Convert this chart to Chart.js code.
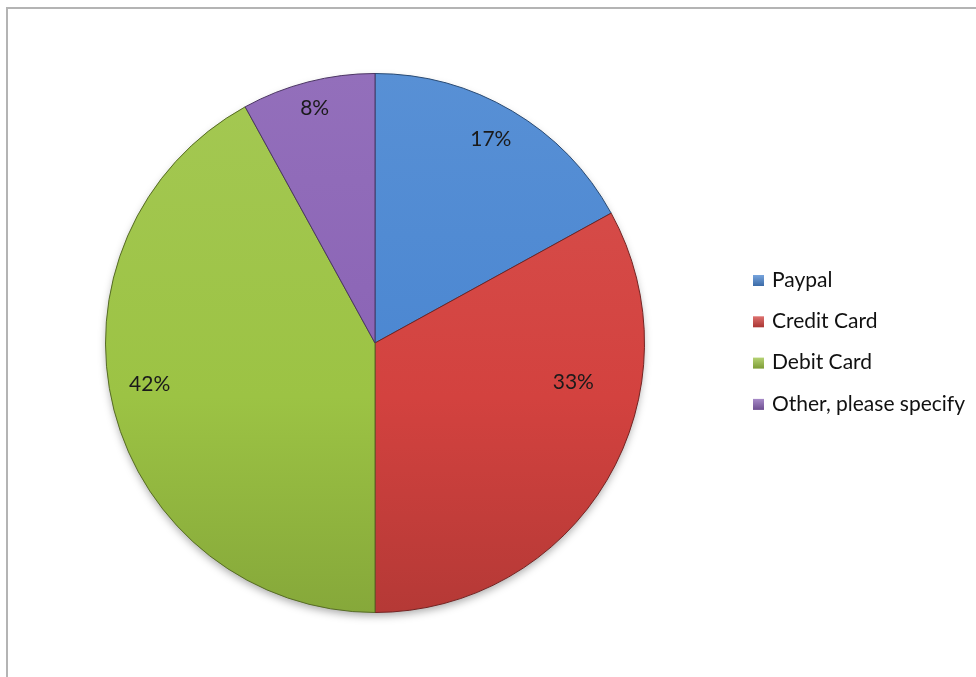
<!DOCTYPE html>
<html>
<head>
<meta charset="utf-8">
<title>Payment method</title>
<script src="https://cdn.jsdelivr.net/npm/chart.js@4.4.1/dist/chart.umd.min.js"></script>
<style>
  html, body { margin: 0; padding: 0; background: #fff; }
  #wrap { width: 976px; height: 677px; }
</style>
</head>
<body>
<div id="wrap"><canvas id="payChart" width="976" height="677"></canvas></div>
<script>
const methodLabels = ['Paypal', 'Credit Card', 'Debit Card', 'Other, please specify'];
const methodShares = [17, 33, 42, 8];
const sliceColors = ['#4a86d1', '#d3423f', '#9cc344', '#8a63b5'];

// shift a hex colour lighter (amt > 0) or darker (amt < 0)
function shade(hex, amt) {
    const n = parseInt(hex.slice(1), 16);
    let r = (n >> 16) & 255, g = (n >> 8) & 255, b = n & 255;
    const f = (c) => Math.max(0, Math.min(255, Math.round(amt > 0 ? c + (255 - c) * amt : c * (1 + amt))));
    return 'rgb(' + f(r) + ',' + f(g) + ',' + f(b) + ')';
}

const frame = {
    id: 'frame',
    beforeDraw(chart) {
        const ctx = chart.ctx;
        ctx.save();
        ctx.strokeStyle = '#b4b4b4';
        ctx.lineWidth = 2;
        ctx.beginPath();
        ctx.moveTo(7, chart.height);
        ctx.lineTo(7, 8);
        ctx.lineTo(chart.width, 8);
        ctx.stroke();
        ctx.restore();
    }
};

// soft shadow under the pie
const pieShadow = {
    id: 'pieShadow',
    beforeDatasetsDraw(chart) {
        const arc = chart.getDatasetMeta(0).data[0];
        if (!arc) return;
        const ctx = chart.ctx;
        ctx.save();
        ctx.shadowColor = 'rgba(0,0,0,0.35)';
        ctx.shadowBlur = 8;
        ctx.shadowOffsetY = 4;
        ctx.fillStyle = '#fff';
        ctx.beginPath();
        ctx.arc(arc.x, arc.y, arc.outerRadius - 1, 0, Math.PI * 2);
        ctx.fill();
        ctx.restore();
    }
};

const sliceLabels = {
    id: 'sliceLabels',
    afterDatasetsDraw(chart, args, opts) {
        const ctx = chart.ctx;
        const meta = chart.getDatasetMeta(0);
        ctx.save();
        ctx.font = '21px Lato, "Open Sans", sans-serif';
        ctx.fillStyle = '#1a1a1a';
        ctx.textAlign = 'center';
        ctx.textBaseline = 'middle';
        meta.data.forEach((arc, i) => {
            const p = opts.place[i];
            const mid = (arc.startAngle + arc.endAngle) / 2 + p.shift * Math.PI / 180;
            const r = arc.outerRadius * p.r;
            ctx.fillText(methodShares[i] + '%', arc.x + Math.cos(mid) * r, arc.y + Math.sin(mid) * r);
        });
        ctx.restore();
    }
};

const sideLegend = {
    id: 'sideLegend',
    afterDraw(chart, args, opts) {
        const ctx = chart.ctx;
        ctx.save();
        ctx.font = '21px Lato, "Open Sans", sans-serif';
        ctx.textBaseline = 'middle';
        chart.data.labels.forEach((lab, i) => {
            const y = opts.top + i * opts.step;
            const g = ctx.createLinearGradient(0, y - 5, 0, y + 6);
            g.addColorStop(0, shade(sliceColors[i], 0.25));
            g.addColorStop(1, shade(sliceColors[i], -0.2));
            ctx.fillStyle = g;
            ctx.fillRect(opts.left, y - 5, 11, 11);
            ctx.fillStyle = '#111';
            ctx.fillText(lab, opts.left + 19, y);
        });
        ctx.restore();
    }
};

new Chart(document.getElementById('payChart'), {
    type: 'pie',
    data: {
        labels: methodLabels,
        datasets: [{
            data: methodShares,
            backgroundColor: (c) => {
                const area = c.chart.chartArea;
                if (!area) return sliceColors[c.dataIndex];
                const base = sliceColors[c.dataIndex];
                const g = c.chart.ctx.createLinearGradient(0, area.top, 0, area.bottom);
                g.addColorStop(0, shade(base, 0.08));
                g.addColorStop(0.6, base);
                g.addColorStop(1, shade(base, -0.14));
                return g;
            },
            borderColor: sliceColors.map(c => shade(c, -0.45)),
            borderWidth: 1
        }]
    },
    options: {
        responsive: false,
        animation: false,
        layout: { padding: { left: 105, right: 331, top: 73, bottom: 64 } },
        plugins: {
            legend: { display: false },
            tooltip: { enabled: false },
            sliceLabels: {
                place: [
                    { r: 0.87, shift: -1 },
                    { r: 0.75, shift: -19.5 },
                    { r: 0.85, shift: 4 },
                    { r: 0.9, shift: 0 }
                ]
            },
            sideLegend: { left: 753, top: 280, step: 41.3 }
        }
    },
    plugins: [frame, pieShadow, sliceLabels, sideLegend]
});
</script>
</body>
</html>
